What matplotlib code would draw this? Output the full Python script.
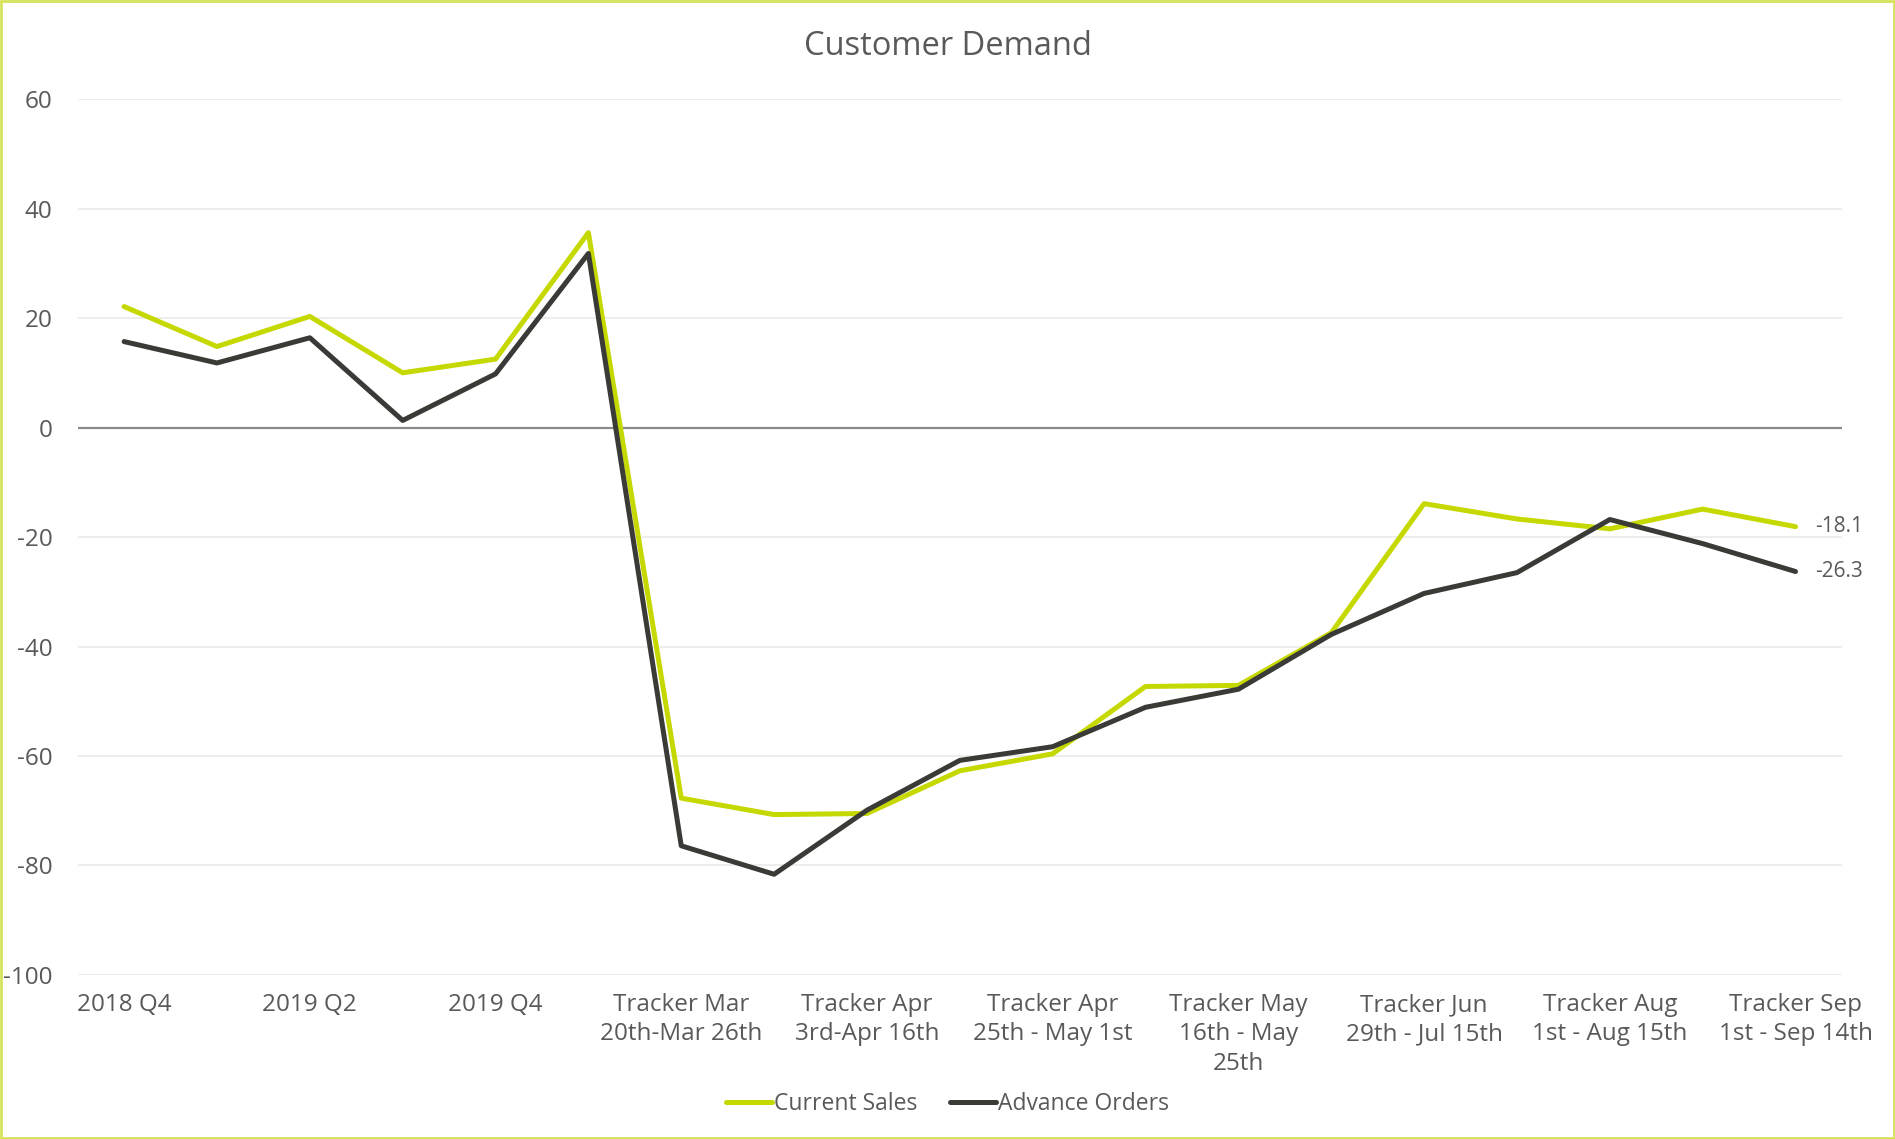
import matplotlib.pyplot as plt
from matplotlib.patches import Rectangle

plt.rcParams['font.family'] = ['Open Sans', 'DejaVu Sans']

# category axis (only every second label is shown, as in the source chart)
categories = [
    "2018 Q4", "2019 Q1", "2019 Q2", "2019 Q3", "2019 Q4", "2020 Q1",
    "Tracker Mar\n20th-Mar 26th", "Tracker Mar\n27th-Apr 2nd",
    "Tracker Apr\n3rd-Apr 16th", "Tracker Apr\n17th-Apr 24th",
    "Tracker Apr\n25th - May 1st", "Tracker May\n2nd - May 15th",
    "Tracker May\n16th - May\n25th", "Tracker May\n26th - Jun 28th",
    "Tracker Jun\n29th - Jul 15th", "Tracker Jul\n16th - Jul 31st",
    "Tracker Aug\n1st - Aug 15th", "Tracker Aug\n16th - Aug 31st",
    "Tracker Sep\n1st - Sep 14th",
]
current_sales = [22.1, 14.8, 20.3, 10.0, 12.5, 35.6, -67.7, -70.7, -70.5, -62.7,
                 -59.6, -47.3, -47.1, -37.5, -13.9, -16.7, -18.5, -14.9, -18.1]
advance_orders = [15.7, 11.8, 16.4, 1.3, 9.8, 31.8, -76.4, -81.6, -69.9, -60.8,
                  -58.3, -51.1, -47.8, -37.8, -30.3, -26.5, -16.8, -21.2, -26.3]
y_ticks = [60, 40, 20, 0, -20, -40, -60, -80, -100]

GREEN = "#C5D800"
DARK = "#3A3B36"
TEXT = "#595959"

fig = plt.figure(figsize=(18.95, 11.39), dpi=100)
ax = fig.add_axes([0.041, 0.144, 0.931, 0.769])

x = list(range(len(categories)))
ax.plot(x, current_sales, color=GREEN, lw=3.6, solid_capstyle="round",
        solid_joinstyle="round", label="Current Sales", zorder=3)
ax.plot(x, advance_orders, color=DARK, lw=3.6, solid_capstyle="round",
        solid_joinstyle="round", label="Advance Orders", zorder=4)

# end-point value labels
ax.annotate(f"{current_sales[-1]:.1f}", (x[-1], current_sales[-1]), xytext=(14, 0),
            textcoords="offset points", va="center", ha="left", fontsize=15, color=TEXT)
ax.annotate(f"{advance_orders[-1]:.1f}", (x[-1], advance_orders[-1]), xytext=(14, 0),
            textcoords="offset points", va="center", ha="left", fontsize=15, color=TEXT)

ax.set_xlim(-0.5, len(categories) - 0.5)
ax.set_ylim(-100, 60)
ax.set_yticks(y_ticks)
ax.set_yticklabels([str(v) for v in y_ticks])
ax.set_xticks(x[::2])
ax.set_xticklabels(categories[::2], linespacing=1.3)
ax.tick_params(axis="both", length=0, labelsize=17.5, labelcolor=TEXT)
ax.tick_params(axis="x", pad=13)
ax.tick_params(axis="y", pad=18)

ax.grid(axis="y", color="#EDEDED", lw=1.4)
ax.set_axisbelow(True)
ax.axhline(0, color="#8A8A8A", lw=1.6, zorder=2)
for s in ax.spines.values():
    s.set_visible(False)

fig.suptitle("Customer Demand", y=0.974, fontsize=23.5, color=TEXT)
fig.legend(loc="lower center", bbox_to_anchor=(0.5, 0.002), ncol=2, frameon=False,
           fontsize=16.5, labelcolor=TEXT, handlelength=2.0, handletextpad=0.12,
           columnspacing=1.4)

fig.patches.append(Rectangle((0.0005, 0.0005), 0.999, 0.999, transform=fig.transFigure,
                             fill=False, edgecolor="#D6E35A", lw=2))

fig.savefig("out.png", dpi=100)
